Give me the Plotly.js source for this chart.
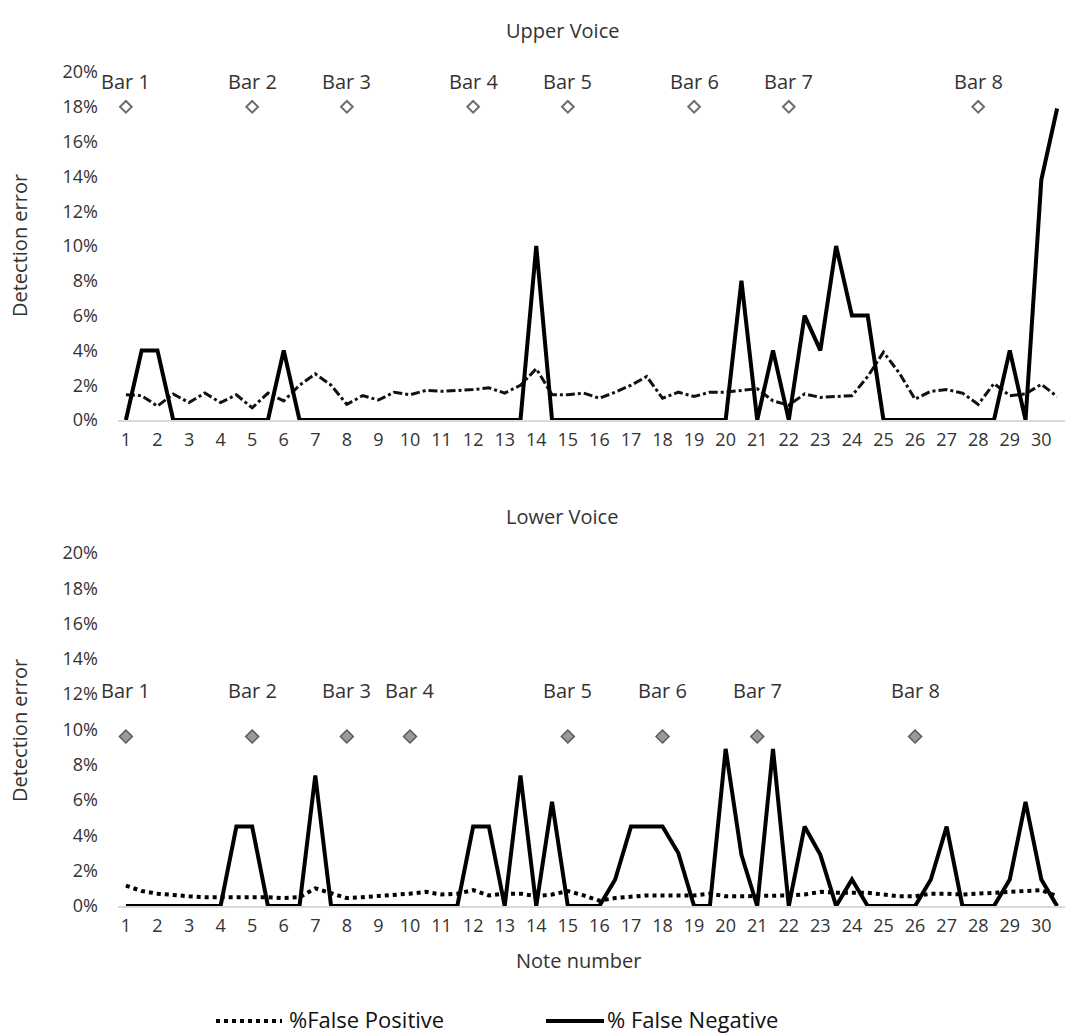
<!DOCTYPE html>
<html>
<head>
<meta charset="utf-8">
<script src="https://cdn.plot.ly/plotly-3.0.1.min.js"></script>
<style>html,body{margin:0;padding:0;background:#fff;}#chart{width:1065px;height:1036px;}</style>
</head>
<body>
<div id="chart"></div>
<script>
// Note positions (half-note steps)
const notePos = [1,1.5,2,2.5,3,3.5,4,4.5,5,5.5,6,6.5,7,7.5,8,8.5,9,9.5,10,10.5,
  11,11.5,12,12.5,13,13.5,14,14.5,15,15.5,16,16.5,17,17.5,18,18.5,19,19.5,20,20.5,
  21,21.5,22,22.5,23,23.5,24,24.5,25,25.5,26,26.5,27,27.5,28,28.5,29,29.5,30,30.5];
const noteTicks = [1,2,3,4,5,6,7,8,9,10,11,12,13,14,15,16,17,18,19,20,21,22,23,24,25,26,27,28,29,30];

// Upper voice (% detection error)
const upperFP = [1.45,1.4,0.8,1.5,1.0,1.55,1.0,1.45,0.7,1.55,1.1,2.0,2.65,2.0,0.9,1.4,1.15,1.6,1.45,1.7,
  1.65,1.7,1.75,1.85,1.55,2.0,2.95,1.45,1.45,1.55,1.25,1.6,2.0,2.5,1.25,1.6,1.35,1.6,1.6,1.7,
  1.8,1.1,0.85,1.5,1.3,1.35,1.4,2.5,3.9,2.7,1.2,1.65,1.75,1.55,0.9,2.1,1.4,1.5,2.05,1.35];
const upperFN = [0,4,4,0,0,0,0,0,0,0,4,0,0,0,0,0,0,0,0,0,
  0,0,0,0,0,0,10,0,0,0,0,0,0,0,0,0,0,0,0,8,
  0,4,0,6,4,10,6,6,0,0,0,0,0,0,0,0,4,0,13.8,17.9];

// Lower voice (% detection error)
const lowerFP = [1.15,0.85,0.7,0.6,0.55,0.5,0.5,0.55,0.55,0.5,0.45,0.5,1.0,0.7,0.45,0.5,0.55,0.6,0.7,0.8,
  0.65,0.7,0.9,0.6,0.7,0.7,0.55,0.65,0.85,0.6,0.3,0.45,0.55,0.6,0.6,0.6,0.6,0.7,0.55,0.55,
  0.55,0.55,0.6,0.65,0.8,0.75,0.75,0.75,0.65,0.55,0.55,0.7,0.7,0.65,0.7,0.75,0.75,0.8,0.9,0.55];
const lowerFN = [0,0,0,0,0,0,0,4.5,4.5,0,0,0,7.4,0,0,0,0,0,0,0,
  0,0,4.5,4.5,0,7.4,0,5.9,0,0,0,1.5,4.5,4.5,4.5,3.0,0,0,8.9,2.9,
  0,8.9,0,4.5,2.9,0,1.5,0,0,0,0,1.5,4.5,0,0,0,1.5,5.9,1.5,0];

// Bar markers
const barLabels = ["Bar 1","Bar 2","Bar 3","Bar 4","Bar 5","Bar 6","Bar 7","Bar 8"];
const upperBarNotes = [1,5,8,12,15,19,22,28];
const upperBarLevel = [18,18,18,18,18,18,18,18];
const lowerBarNotes = [1,5,8,10,15,18,21,26];
const lowerBarLevel = [9.6,9.6,9.6,9.6,9.6,9.6,9.6,9.6];

const seriesNames = ['%False Positive', '% False Negative'];

const FONT = "Open Sans, Noto Sans, sans-serif";
const TXT = "#333333";

const traces = [
  {x: notePos, y: upperFP, xaxis:'x', yaxis:'y', mode:'lines', name:seriesNames[0], showlegend:false,
   line:{color:'#111', width:3, dash:'dashdot'}},
  {x: notePos, y: upperFN, xaxis:'x', yaxis:'y', mode:'lines', name:seriesNames[1], showlegend:false,
   line:{color:'#000', width:4}},
  {x: upperBarNotes, y: upperBarLevel, xaxis:'x', yaxis:'y', mode:'markers', showlegend:false,
   marker:{symbol:'diamond', size:9, color:'#ffffff', line:{color:'#6e6e6e', width:2}}},
  {x: notePos, y: lowerFP, xaxis:'x2', yaxis:'y2', mode:'lines', name:seriesNames[0], showlegend:false,
   line:{color:'#000', width:4, dash:'dot'}},
  {x: notePos, y: lowerFN, xaxis:'x2', yaxis:'y2', mode:'lines', name:seriesNames[1], showlegend:false,
   line:{color:'#000', width:4}},
  {x: lowerBarNotes, y: lowerBarLevel, xaxis:'x2', yaxis:'y2', mode:'markers', showlegend:false,
   marker:{symbol:'diamond', size:10, color:'#9a9a9a', line:{color:'#5a5a5a', width:1.5}}}
];

// paper-coordinate helpers (plot area: x 118..1065 px, y 72..906 px)
const PX = px => (px - 118) / 947;
const PY = py => (906 - py) / 834;

const annotations = [];
barLabels.forEach((t,i)=>{
  annotations.push({x: upperBarNotes[i], y: upperBarLevel[i], xref:'x', yref:'y', text:t, showarrow:false,
    yshift:25, font:{family:FONT, size:20, color:TXT}});
  annotations.push({x: lowerBarNotes[i], y: lowerBarLevel[i], xref:'x2', yref:'y2', text:t, showarrow:false,
    yshift:46, font:{family:FONT, size:20, color:TXT}});
});
const cm = (text, px, py, extra) => Object.assign({text, xref:'paper', yref:'paper', x:PX(px), y:PY(py),
  xanchor:'center', yanchor:'middle', showarrow:false, font:{family:FONT, size:20, color:TXT}}, extra||{});
annotations.push(cm('Upper Voice', 562, 30));
annotations.push(cm('Lower Voice', 562, 516));
annotations.push(cm('Note number', 578, 960));
annotations.push(cm('Detection error', 19, 246, {textangle:-90}));
annotations.push(cm('Detection error', 19, 731, {textangle:-90}));
// legend texts
annotations.push(cm(seriesNames[0], 287, 1019, {xanchor:'left', font:{family:FONT, size:22, color:'#111'}}));
annotations.push(cm(seriesNames[1], 605, 1019, {xanchor:'left', font:{family:FONT, size:22, color:'#111'}}));

const shapes = [
  {type:'line', xref:'paper', yref:'paper', x0:PX(216), x1:PX(282), y0:PY(1021), y1:PY(1021),
   line:{color:'#000', width:4, dash:'dot'}},
  {type:'line', xref:'paper', yref:'paper', x0:PX(546), x1:PX(604), y0:PY(1021), y1:PY(1021),
   line:{color:'#000', width:4}}
];

const xBase = {range:[0.75,30.75], tickmode:'array', tickvals:noteTicks, ticktext:noteTicks.map(String),
  showgrid:false, zeroline:false, showline:true, linecolor:'#d9d9d9', linewidth:1.5, ticks:'',
  ticklabelstandoff:3, tickfont:{family:FONT, size:18, color:TXT}};
const yBase = {range:[0,20], dtick:2, ticksuffix:'%', showgrid:false, zeroline:false, showline:false,
  ticks:'', ticklabelstandoff:19, tickfont:{family:FONT, size:18, color:TXT}};

const layout = {
  width:1065, height:1036,
  margin:{l:118, r:0, t:72, b:130},
  paper_bgcolor:'#fff', plot_bgcolor:'#fff',
  font:{family:FONT, color:TXT},
  xaxis: Object.assign({}, xBase, {anchor:'y'}),
  yaxis: Object.assign({}, yBase, {domain:[0.5827,1], anchor:'x'}),
  xaxis2: Object.assign({}, xBase, {anchor:'y2'}),
  yaxis2: Object.assign({}, yBase, {domain:[0,0.4233], anchor:'x2'}),
  showlegend:false,
  annotations: annotations,
  shapes: shapes
};

Plotly.newPlot('chart', traces, layout, {displayModeBar:false, staticPlot:true});
</script>
</body>
</html>
